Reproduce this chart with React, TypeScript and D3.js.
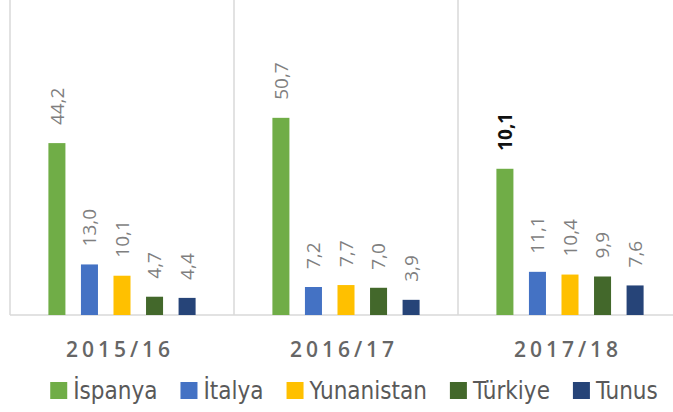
import React, { useEffect, useRef } from "react";
import * as d3 from "d3";

const years = ["2015/16", "2016/17", "2017/18"];
const countries = ["İspanya", "İtalya", "Yunanistan", "Türkiye", "Tunus"];
const colors = ["#70AD47", "#4472C4", "#FFC000", "#43682B", "#264478"];

// bar heights, per year
const values = [
  [44.2, 13.0, 10.1, 4.7, 4.4],
  [50.7, 7.2, 7.7, 7.0, 3.9],
  [37.6, 11.1, 10.4, 9.9, 7.6],
];
// printed labels (2017/18 İspanya label is printed as 10,1 in the source)
const labels = [
  ["44,2", "13,0", "10,1", "4,7", "4,4"],
  ["50,7", "7,2", "7,7", "7,0", "3,9"],
  ["10,1", "11,1", "10,4", "9,9", "7,6"],
];
const boldLabels = [[false, false, false, false, false], [false, false, false, false, false], [true, false, false, false, false]];

const W = 673;
const H = 412;

export default function App() {
  const ref = useRef<SVGSVGElement>(null);

  useEffect(() => {
    const svg = d3.select(ref.current);
    svg.selectAll("*").remove();

    const base = 315;
    const x0 = d3.scaleBand().domain(years).range([10, 682]);
    const x1 = d3
      .scaleBand()
      .domain(countries)
      .range([0, x0.bandwidth()])
      .paddingInner(0.477)
      .paddingOuter(1.18);
    const y = d3.scaleLinear().domain([0, 81]).range([base, 0]);

    // separators
    svg
      .append("g")
      .selectAll("line")
      .data(years)
      .join("line")
      .attr("x1", (d) => x0(d)!)
      .attr("x2", (d) => x0(d)!)
      .attr("y1", 0)
      .attr("y2", base)
      .attr("stroke", "#d9d9d9")
      .attr("stroke-width", 1.5);

    svg
      .append("line")
      .attr("x1", 10)
      .attr("x2", W)
      .attr("y1", base)
      .attr("y2", base)
      .attr("stroke", "#d9d9d9")
      .attr("stroke-width", 1.5);

    const groups = svg
      .append("g")
      .selectAll("g")
      .data(years)
      .join("g")
      .attr("transform", (d) => `translate(${x0(d)},0)`);

    groups
      .selectAll("rect")
      .data((d, i) => values[i].map((v, j) => ({ v, j })))
      .join("rect")
      .attr("x", (d) => x1(countries[d.j])!)
      .attr("width", x1.bandwidth())
      .attr("y", (d) => y(d.v))
      .attr("height", (d) => base - y(d.v))
      .attr("fill", (d) => colors[d.j]);

    groups
      .selectAll("text")
      .data((d, i) => values[i].map((v, j) => ({ v, j, label: labels[i][j], bold: boldLabels[i][j] })))
      .join("text")
      .attr("transform", (d) => `translate(${x1(countries[d.j])! + x1.bandwidth() / 2},${y(d.v) - 18}) rotate(-90)`)
      .attr("dy", "0.36em")
      .attr("font-family", "'Open Sans', sans-serif")
      .attr("font-size", 19)
      .attr("font-weight", (d) => (d.bold ? 700 : 400))
      .attr("fill", (d) => (d.bold ? "#111" : "#7f7f7f"))
      .text((d) => d.label);

    // category axis labels
    svg
      .append("g")
      .selectAll("text")
      .data(years)
      .join("text")
      .attr("x", (d) => x0(d)! + x0.bandwidth() / 2 - 2)
      .attr("y", 357)
      .attr("text-anchor", "middle")
      .attr("font-family", "'Open Sans', sans-serif")
      .attr("font-size", 21)
      .attr("font-weight", 600)
      .attr("letter-spacing", 4)
      .attr("fill", "#666")
      .text((d) => d);

    // legend
    const lg = svg.append("g");
    let cx = 0;
    countries.forEach((c, i) => {
      const item = lg.append("g").attr("transform", `translate(${cx},0)`);
      item.append("rect").attr("x", 0).attr("y", 382).attr("width", 17).attr("height", 17).attr("fill", colors[i]);
      const t = item
        .append("text")
        .attr("x", 23)
        .attr("y", 399)
        .attr("font-family", "'Liberation Sans Narrow', 'DejaVu Sans Condensed', sans-serif")
        .attr("font-size", 24)
        .attr("fill", "#595959")
        .text(c);
      const w = (t.node() as SVGTextElement).getComputedTextLength();
      cx += 23 + w + 23;
    });
    const total = cx - 23;
    lg.attr("transform", `translate(${354 - total / 2},0)`);
  }, []);

  return (
    <svg
      ref={ref}
      width={W}
      height={H}
      style={{ position: "absolute", left: 0, top: 0, background: "#fff" }}
    />
  );
}
